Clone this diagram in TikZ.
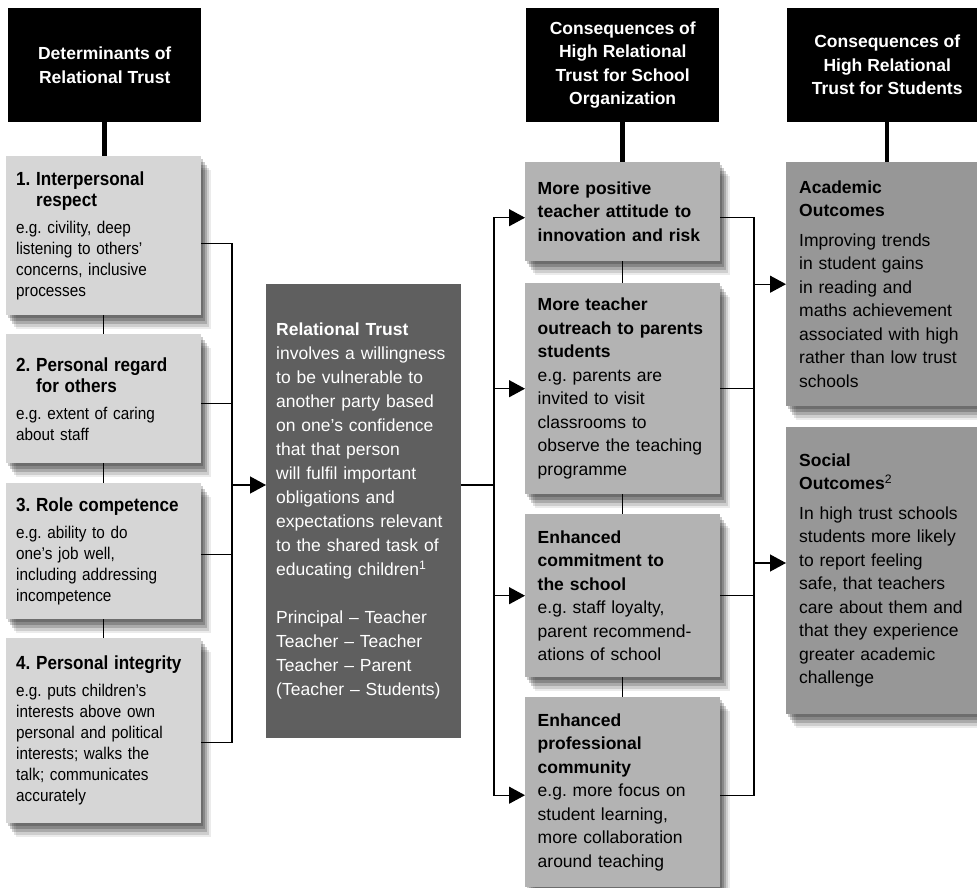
\documentclass[tikz,border=0pt]{standalone}
\usepackage{fontspec}
\setmainfont{Liberation Sans}
\newfontfamily\narrowfont{Liberation Sans}[FakeStretch=0.9]
\frenchspacing
\definecolor{DetGray}{HTML}{D6D6D6}
\definecolor{OrgGray}{HTML}{B3B3B3}
\definecolor{StuGray}{HTML}{979797}
\definecolor{TrustGray}{HTML}{5F5F5F}
\usepackage{tikz}
\usetikzlibrary{arrows.meta, positioning, shadows}
\newcommand{\bodyfont}{\fontsize{17.5}{23.5}\selectfont}
\newcommand{\detfont}{\narrowfont\fontsize{17}{21}\selectfont}
\newcommand{\dethead}{\narrowfont\bfseries\fontsize{19}{22}\selectfont}
\tikzset{
  % Shadow
  softshadow/.style={general shadow={fill=black, opacity=0.2, shadow xshift=2pt, shadow yshift=-3pt},
    general shadow={fill=black, opacity=0.2, shadow xshift=4pt, shadow yshift=-6pt},
    general shadow={fill=black, opacity=0.18, shadow xshift=6pt, shadow yshift=-9pt},
    general shadow={fill=black, opacity=0.12, shadow xshift=8pt, shadow yshift=-12pt},
    general shadow={fill=black, opacity=0.08, shadow xshift=10pt, shadow yshift=-14pt}},
  % Box styles
  headbox/.style={rectangle, fill=black, text=white, anchor=north west, minimum width=193pt, minimum height=114pt, inner sep=0pt, align=center, font=\bfseries\bodyfont},
  detbox/.style={rectangle, fill=DetGray, softshadow, anchor=north west, inner xsep=10pt, inner ysep=0pt, text width=175pt, align=left, font=\detfont},
  trustbox/.style={rectangle, fill=TrustGray, text=white, anchor=north west, inner xsep=10pt, inner ysep=0pt, text width=175pt, align=left, font=\fontsize{17.5}{24}\selectfont},
  orgbox/.style={rectangle, fill=OrgGray, softshadow, anchor=north west, inner xsep=12.5pt, inner ysep=0pt, text width=170pt, align=left, font=\bodyfont},
  stubox/.style={rectangle, fill=StuGray, softshadow, anchor=north west, inner xsep=13pt, inner ysep=0pt, text width=175pt, align=left, font=\bodyfont},
  % Line styles
  stem/.style={line width=4.5pt, black},
  link/.style={line width=1.3pt, black},
  arrow/.style={-{Triangle[length=16pt, width=17pt]}, line width=1.3pt, black}
}

\begin{document}
\begin{tikzpicture}[x=1pt, y=-1pt]
  \useasboundingbox (0,0) rectangle (977,888);

  % Headers
  \node[headbox] (head1) at (8,8) {Determinants of\\Relational Trust};
  \node[headbox] (head3) at (526,8) {Consequences of\\High Relational\\Trust for School\\Organization};
  \node[headbox, minimum width=200pt] (head4) at (787,8) {Consequences of\\High Relational\\Trust for Students};

  % Determinants
  \node[detbox, minimum height=159pt] (det1) at (6,156) {{\dethead 1.~Interpersonal\\\phantom{1.~}respect}\\[6pt]e.g. civility, deep\\listening to others’\\concerns, inclusive\\processes};
  \node[detbox, minimum height=129pt] (det2) at (6,334) {{\dethead 2.~Personal regard\\\phantom{2.~}for others}\\[6pt]e.g. extent of caring\\about staff};
  \node[detbox, minimum height=136pt] (det3) at (6,483) {{\dethead 3.~Role competence}\\[6pt]e.g. ability to do\\one’s job well,\\including addressing\\incompetence};
  \node[detbox, minimum height=185pt] (det4) at (6,638) {{\dethead 4.~Personal integrity}\\[6pt]e.g. puts children’s\\interests above own\\personal and political\\interests; walks the\\talk; communicates\\accurately};

  % Relational trust
  \node[trustbox, minimum height=454pt] (trust) at (266,284) {\textbf{Relational Trust}\\involves a willingness\\to be vulnerable to\\another party based\\on one’s confidence\\that that person\\will fulfil important\\obligations and\\expectations relevant\\to the shared task of\\educating children\textsuperscript{1}\\[24pt]Principal – Teacher\\Teacher – Teacher\\Teacher – Parent\\(Teacher – Students)};

  % School organization
  \node[orgbox, minimum height=99pt] (org1) at (525,162) {\textbf{More positive}\\\textbf{teacher attitude to}\\\textbf{innovation and risk}};
  \node[orgbox, minimum height=211pt] (org2) at (525,283) {\textbf{More teacher}\\\textbf{outreach to parents}\\\textbf{students}\\e.g. parents are\\invited to visit\\classrooms to\\observe the teaching\\programme};
  \node[orgbox, minimum height=163pt] (org3) at (525,514) {\textbf{Enhanced}\\\textbf{commitment to}\\\textbf{the school}\\e.g. staff loyalty,\\parent recommend-\\ations of school};
  \node[orgbox, minimum height=190pt] (org4) at (525,697) {\textbf{Enhanced}\\\textbf{professional}\\\textbf{community}\\e.g. more focus on\\student learning,\\more collaboration\\around teaching};

  % Students
  \node[stubox, minimum height=244pt] (stu1) at (786,162) {\textbf{Academic}\\\textbf{Outcomes}\\[6pt]Improving trends\\in student gains\\in reading and\\maths achievement\\associated with high\\rather than low trust\\schools};
  \node[stubox, minimum height=287pt] (stu2) at (786,427) {\textbf{Social}\\\textbf{Outcomes}\textsuperscript{2}\\[6pt]In high trust schools\\students more likely\\to report feeling\\safe, that teachers\\care about them and\\that they experience\\greater academic\\challenge};

  % Bus points
  \coordinate (lbus) at (232,485);
  \coordinate (mbus) at (494,485);
  \coordinate (rbus) at (754,563);

  % Stems
  \draw[stem] (head1.south) -- (head1.south |- det1.north);
  \draw[stem] (head3.south) -- (head3.south |- org1.north);
  \draw[stem] (head4.south) -- (head4.south |- stu1.north);

  % Column links
  \draw[link] (det1.south) -- (det2.north);
  \draw[link] (det2.south) -- (det3.north);
  \draw[link] (det3.south) -- (det4.north);
  \draw[link] (org1.south) -- (org2.north);
  \draw[link] (org2.south) -- (org3.north);
  \draw[link] (org3.south) -- (org4.north);

  % Determinants to trust
  \draw[link] ([yshift=-7.5pt]det1.east) -| (lbus);
  \draw[link] ([yshift=-4.5pt]det2.east) -| (lbus);
  \draw[link] ([yshift=-3pt]det3.east) -| (lbus);
  \draw[link] ([yshift=-11.5pt]det4.east) -| (lbus);
  \draw[arrow] (lbus) -- (lbus -| trust.west);

  % Trust to organization
  \draw[link] (trust.east |- mbus) -- (mbus);
  \draw[arrow] (mbus) |- ([yshift=-6pt]org1.west);
  \draw[arrow] (mbus) |- (org2.west);
  \draw[arrow] (mbus) |- (org3.west);
  \draw[arrow] (mbus) |- ([yshift=-3pt]org4.west);

  % Organization to students
  \draw[link] ([yshift=-6pt]org1.east) -| (rbus);
  \draw[link] (org2.east) -| (rbus);
  \draw[link] (org3.east) -| (rbus);
  \draw[link] ([yshift=-3pt]org4.east) -| (rbus);
  \draw[arrow] (stu1.west -| rbus) -- (stu1.west);
  \draw[arrow] (rbus) -- (rbus -| stu2.west);
\end{tikzpicture}
\end{document}
